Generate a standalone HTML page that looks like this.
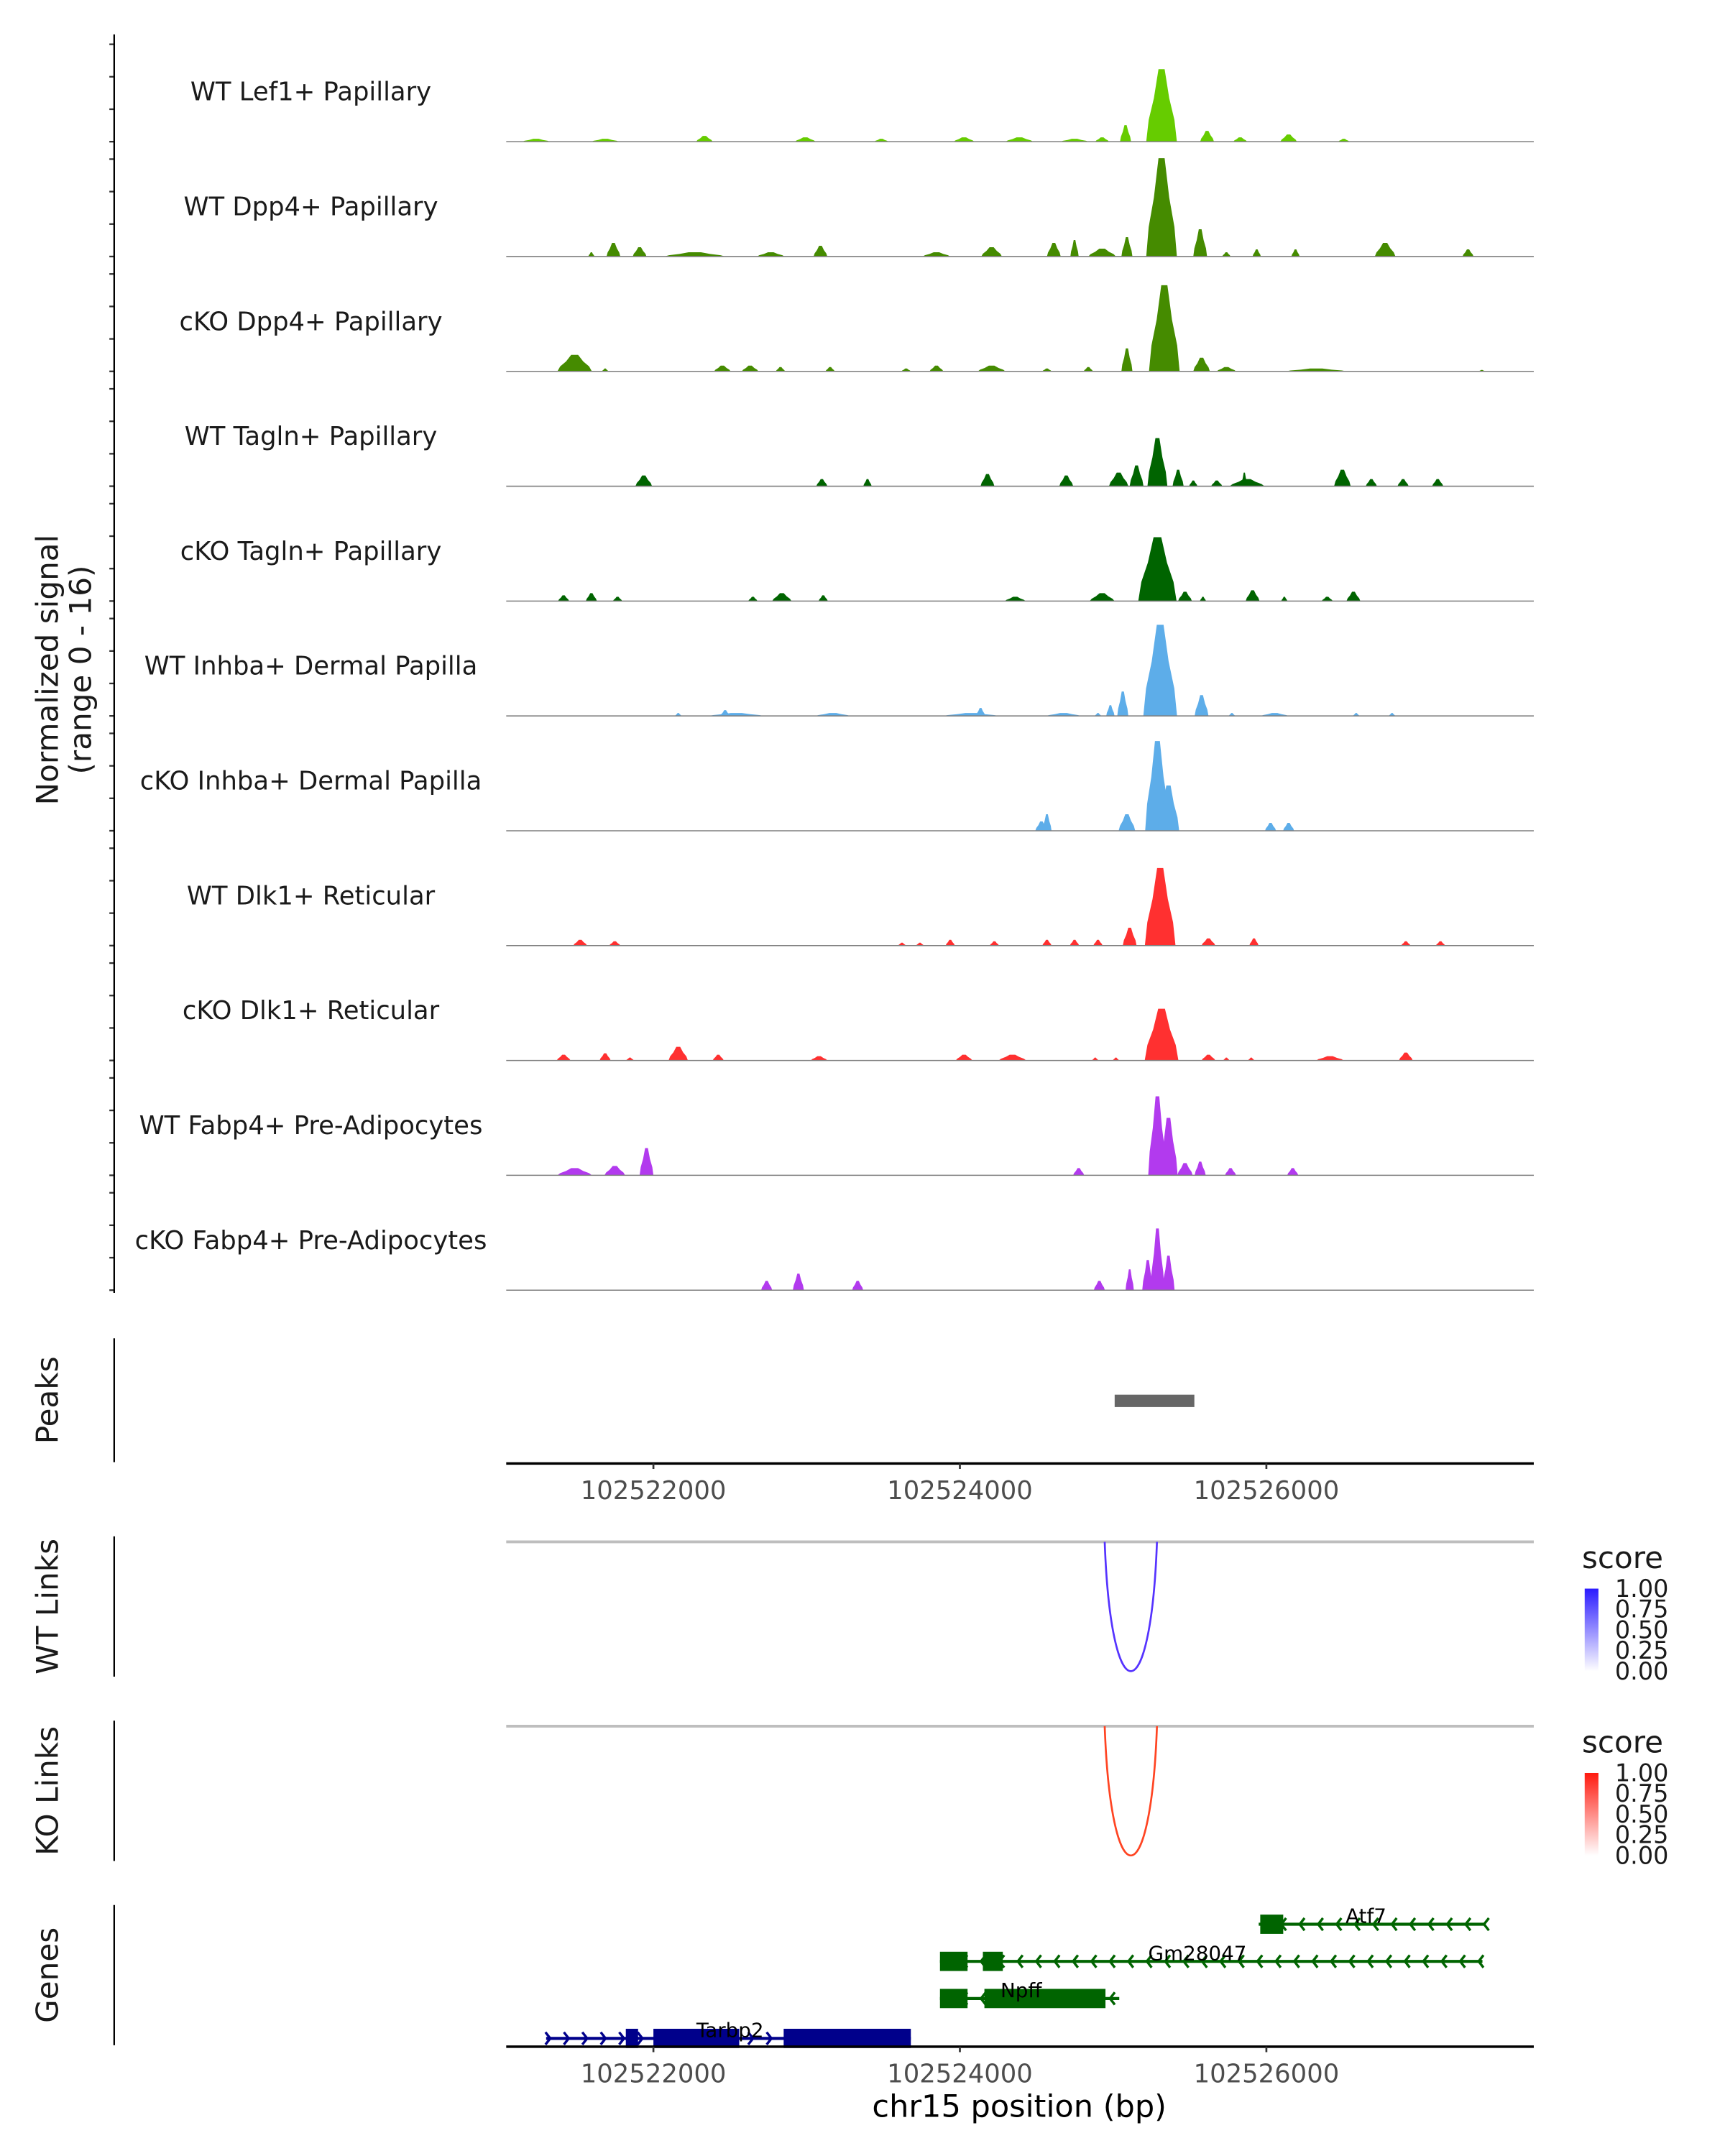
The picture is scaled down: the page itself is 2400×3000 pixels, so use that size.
<!DOCTYPE html>
<html><head><meta charset="utf-8"><style>
html,body{margin:0;padding:0;background:#fff;}
svg{display:block;}
text{font-family:"DejaVu Sans","Liberation Sans",sans-serif;}
</style></head><body>
<svg id="chart" width="2400" height="3000" viewBox="0 0 1254 1567.5" xmlns="http://www.w3.org/2000/svg">
<rect x="0" y="0" width="1254" height="1567.5" fill="#fff"/>
<g id="cov"></g>
<text transform="translate(42,487) rotate(-90)" text-anchor="middle" font-size="22" fill="#1a1a1a">Normalized signal</text>
<text transform="translate(66,487) rotate(-90)" text-anchor="middle" font-size="22" fill="#1a1a1a">(range 0 - 16)</text>
<line x1="83" y1="25" x2="83" y2="940" stroke="#000" stroke-width="1.2"/>
<line x1="83" y1="973" x2="83" y2="1063" stroke="#000" stroke-width="1.2"/>
<text transform="translate(42,1018) rotate(-90)" text-anchor="middle" font-size="22" fill="#1a1a1a">Peaks</text>
<g id="peaks"></g>
<line x1="368" y1="1064" x2="1115" y2="1064" stroke="#000" stroke-width="1.8"/>
<g id="axis1"></g>
<line x1="83" y1="1117" x2="83" y2="1219" stroke="#000" stroke-width="1.2"/>
<text transform="translate(42,1168) rotate(-90)" text-anchor="middle" font-size="22" fill="#1a1a1a">WT Links</text>
<line x1="368" y1="1121" x2="1115" y2="1121" stroke="#bebebe" stroke-width="2"/>
<g id="wtlinks"></g>
<line x1="83" y1="1251" x2="83" y2="1353" stroke="#000" stroke-width="1.2"/>
<text transform="translate(42,1302) rotate(-90)" text-anchor="middle" font-size="22" fill="#1a1a1a">KO Links</text>
<line x1="368" y1="1255" x2="1115" y2="1255" stroke="#bebebe" stroke-width="2"/>
<g id="kolinks"></g>
<defs>
<linearGradient id="gBlue" x1="0" y1="1" x2="0" y2="0"><stop offset="0" stop-color="#ffffff"/><stop offset="1" stop-color="#2a1aff"/></linearGradient>
<linearGradient id="gRed" x1="0" y1="1" x2="0" y2="0"><stop offset="0" stop-color="#ffffff"/><stop offset="1" stop-color="#ff1a0f"/></linearGradient>
</defs>
<g>
<text x="1150" y="1140" font-size="22" fill="#1a1a1a">score</text>
<rect x="1152" y="1155" width="10" height="60" fill="url(#gBlue)"/>
<g font-size="17.5" fill="#1a1a1a"><text x="1174" y="1161">1.00</text><text x="1174" y="1176">0.75</text><text x="1174" y="1191">0.50</text><text x="1174" y="1206">0.25</text><text x="1174" y="1221">0.00</text></g>
</g>
<g>
<text x="1150" y="1274" font-size="22" fill="#1a1a1a">score</text>
<rect x="1152" y="1289" width="10" height="60" fill="url(#gRed)"/>
<g font-size="17.5" fill="#1a1a1a"><text x="1174" y="1295">1.00</text><text x="1174" y="1310">0.75</text><text x="1174" y="1325">0.50</text><text x="1174" y="1340">0.25</text><text x="1174" y="1355">0.00</text></g>
</g>
<line x1="83" y1="1385" x2="83" y2="1487" stroke="#000" stroke-width="1.2"/>
<text transform="translate(42,1436) rotate(-90)" text-anchor="middle" font-size="22" fill="#1a1a1a">Genes</text>
<g id="genes"></g>
<line x1="368" y1="1488" x2="1115" y2="1488" stroke="#000" stroke-width="1.8"/>
<g id="axis2"></g>
<text x="741" y="1539" text-anchor="middle" font-size="22.5" fill="#000">chr15 position (bp)</text>
</svg>
<script>
const NS="http://www.w3.org/2000/svg";
const trackNames=["WT Lef1+ Papillary","WT Dpp4+ Papillary","cKO Dpp4+ Papillary","WT Tagln+ Papillary","cKO Tagln+ Papillary","WT Inhba+ Dermal Papilla","cKO Inhba+ Dermal Papilla","WT Dlk1+ Reticular","cKO Dlk1+ Reticular","WT Fabp4+ Pre-Adipocytes","cKO Fabp4+ Pre-Adipocytes"];
const trackColors=["#66cc00","#458b00","#458b00","#006400","#006400","#5dade9","#5dade9","#ff3030","#ff3030","#b23aee","#b23aee"];
const xTicks=[102522000,102524000,102526000];
const tickLabels=["102522000","102524000","102526000"];

const lef1WtPos=[102525316,102525081,102525613,102522333,102522991,102524027,102524388,102521234,102521685,102523487,102524748,102524928,102525829,102526145,102526505];
const lef1WtVal=[10.1,2.3,1.5,0.8,0.6,0.6,0.6,0.4,0.4,0.4,0.4,0.6,0.6,1.0,0.4];
const lef1WtWid=[200,72,90,108,135,135,180,180,180,90,180,90,90,108,72];

const dpp4WtPos=[102525316,102525568,102521739,102521910,102521595,102522270,102523090,102522766,102523847,102524207,102524613,102524748,102524928,102525090,102525739,102525937,102526190,102526775,102527316];
const dpp4WtVal=[13.7,3.8,1.9,1.3,0.6,0.6,1.5,0.6,0.6,1.3,1.9,2.3,1.1,2.7,0.6,1.0,1.0,1.9,1.0];
const dpp4WtWid=[200,90,90,90,40,400,90,180,180,135,90,54,180,72,54,54,54,135,72];

const dpp4KoPos=[102525334,102525090,102525577,102521486,102521685,102522450,102522631,102522829,102523153,102523649,102523847,102524207,102524568,102524838,102525739,102526325,102527406];
const dpp4KoVal=[12.0,3.2,1.9,2.3,0.4,0.8,0.8,0.6,0.6,0.4,0.8,0.8,0.4,0.6,0.6,0.4,0.2];
const dpp4KoWid=[200,72,108,225,40,108,108,60,60,60,90,180,60,60,126,400,40];

const taglnWtPos=[102525289,102525153,102525424,102521937,102523099,102523397,102524180,102524694,102525036,102525523,102525676,102525874,102525856,102526496,102526685,102526892,102527118];
const taglnWtVal=[6.7,2.9,2.3,1.5,1.0,1.0,1.7,1.5,1.9,0.8,0.8,1.0,1.9,2.3,1.0,1.0,1.0];
const taglnWtWid=[130,90,72,108,72,54,90,90,126,54,72,225,40,108,72,72,72];

const taglnKoPos=[102525289,102521414,102521595,102521766,102522649,102522838,102523108,102524361,102524928,102525469,102525586,102525910,102526117,102526397,102526568];
const taglnKoVal=[8.9,0.8,1.1,0.6,0.6,1.1,0.8,0.6,1.1,1.3,0.6,1.5,0.6,0.6,1.3];
const taglnKoWid=[250,72,72,60,60,126,60,135,162,90,40,90,40,72,90];

const inhbaWtPos=[102525307,102525063,102525577,102522162,102522541,102522468,102523171,102524072,102524135,102524676,102524901,102524982,102525775,102526054,102526586,102526820];
const inhbaWtVal=[12.7,3.4,2.9,0.4,0.4,0.8,0.4,0.4,1.1,0.4,0.4,1.5,0.4,0.4,0.4,0.4];
const inhbaWtWid=[220,72,90,40,360,60,225,360,60,225,40,54,40,180,40,40];

const inhbaKoPos=[102525289,102525361,102524568,102524532,102525090,102526027,102526145];
const inhbaKoVal=[12.5,6.3,2.3,1.3,2.3,1.1,1.1];
const inhbaKoWid=[160,140,60,80,108,72,72];

const dlk1WtPos=[102525307,102525108,102521522,102521748,102523622,102523739,102523937,102524225,102524568,102524748,102524901,102525622,102525919,102526910,102527136];
const dlk1WtVal=[10.8,2.5,0.8,0.6,0.4,0.4,0.8,0.6,0.8,0.8,0.8,1.0,1.0,0.6,0.6];
const dlk1WtWid=[200,90,90,72,50,50,60,60,60,60,60,90,60,60,60];

const dlk1KoPos=[102525316,102521414,102521685,102521847,102522162,102522423,102523081,102524027,102524343,102524883,102525018,102525622,102525739,102525901,102526415,102526910];
const dlk1KoVal=[7.2,0.8,1.0,0.4,1.9,0.8,0.6,0.8,0.8,0.4,0.4,0.8,0.4,0.4,0.6,1.1];
const dlk1KoWid=[220,90,72,50,126,72,108,108,180,40,40,90,40,40,180,90];

const fabp4WtPos=[102525289,102525361,102525469,102521486,102521748,102521955,102524775,102525568,102525766,102526172];
const fabp4WtVal=[11.0,8.0,1.7,1.0,1.3,3.8,1.0,1.9,1.0,1.0];
const fabp4WtWid=[120,120,100,225,135,90,72,72,72,72];

const fabp4KoPos=[102525289,102525361,102525226,102525108,102522739,102522946,102523333,102524910];
const fabp4KoVal=[8.6,4.8,4.2,2.9,1.3,2.3,1.3,1.3];
const fabp4KoWid=[90,80,72,54,72,72,72,72];

const peakStarts=[102525010];
const peakEnds=[102525530];

const wtLinkStart=[102524945];
const wtLinkEnd=[102525286];
const koLinkStart=[102524945];
const koLinkEnd=[102525286];

const trackPos=[lef1WtPos,dpp4WtPos,dpp4KoPos,taglnWtPos,taglnKoPos,inhbaWtPos,inhbaKoPos,dlk1WtPos,dlk1KoPos,fabp4WtPos,fabp4KoPos];
const trackVal=[lef1WtVal,dpp4WtVal,dpp4KoVal,taglnWtVal,taglnKoVal,inhbaWtVal,inhbaKoVal,dlk1WtVal,dlk1KoVal,fabp4WtVal,fabp4KoVal];
const trackWid=[lef1WtWid,dpp4WtWid,dpp4KoWid,taglnWtWid,taglnKoWid,inhbaWtWid,inhbaKoWid,dlk1WtWid,dlk1KoWid,fabp4WtWid,fabp4KoWid];

const X0=368,X1=1115;
function xs(bp){return 475+(bp-102522000)*(222.8/2000);}
const trackStep=83.5;
function baseY(i){return 103+i*trackStep;}
function ys(v){return v*(83.5/16);}
function mk(tag,attrs,parent){const e=document.createElementNS(NS,tag);for(const k in attrs)e.setAttribute(k,attrs[k]);parent.appendChild(e);return e;}

const cov=document.getElementById('cov');
for(let i=0;i<trackNames.length;i++){
  const b=baseY(i);
  const g=mk('g',{},cov);
  
  
  const lab=mk('text',{x:226,y:b-30,'text-anchor':'middle','font-size':'18.5',fill:'#1a1a1a'},g);
  lab.textContent=trackNames[i];
  
  
  for(let k=0;k<4;k++){
    const t=mk('line',{x1:79.5,x2:83,y1:b-k*23.6,y2:b-k*23.6,stroke:'#333','stroke-width':1.2},g);
    
    
  }
  const P=trackPos[i],V=trackVal[i],W=trackWid[i];
  for(let j=0;j<P.length;j++){
    const l=xs(P[j]-W[j]/2),r=xs(P[j]+W[j]/2),c=xs(P[j]);
    const tw=(r-l)*0.1;
    const h=ys(V[j]);
    const p=mk('polygon',{points:`${l},${b} ${l+(r-l)*0.08},${b-h*0.3} ${l+(r-l)*0.25},${b-h*0.6} ${c-tw},${b-h} ${c+tw},${b-h} ${r-(r-l)*0.25},${b-h*0.6} ${r-(r-l)*0.08},${b-h*0.3} ${r},${b}`,fill:trackColors[i]},g);
    
    
  }
  const bl=mk('line',{x1:X0,x2:X1,y1:b,y2:b,stroke:'#7f7f7f','stroke-width':0.8},g);
  
  
}

const pk=document.getElementById('peaks');
for(let j=0;j<peakStarts.length;j++){
  const r=mk('rect',{x:xs(peakStarts[j]),y:1014,width:xs(peakEnds[j])-xs(peakStarts[j]),height:9,fill:'#666'},pk);
  
  
}

function axis(id,y){
  const g=document.getElementById(id);
  for(let j=0;j<xTicks.length;j++){
    const x=xs(xTicks[j]);
    const t=mk('line',{x1:x,x2:x,y1:y,y2:y+4,stroke:'#333','stroke-width':1.4},g);
    
    
    const tx=mk('text',{x:x,y:y+26,'text-anchor':'middle','font-size':'18.5',fill:'#4d4d4d'},g);
    tx.textContent=tickLabels[j];
    
    
  }
}
axis('axis1',1064);axis('axis2',1488);

function arc(id,s,e,top,bottom,color){
  const g=document.getElementById(id);
  const a=xs(s),b=xs(e);const cy=top+(bottom-top)/0.75;
  const p=mk('path',{d:`M${a},${top} C${a+(b-a)*0.12},${cy} ${b-(b-a)*0.12},${cy} ${b},${top}`,fill:'none',stroke:color,'stroke-width':1.4},g);
  
  
}
arc('wtlinks',wtLinkStart[0],wtLinkEnd[0],1121,1215,'#5533ff');
arc('kolinks',koLinkStart[0],koLinkEnd[0],1255,1349,'#ff4422');

const geneNames=["Atf7","Gm28047","Npff","Tarbp2"];
const geneStart=[102525950,102523870,102523870,102521300];
const geneEnd=[102527430,102527410,102525040,102523680];
const geneStrand=[-1,-1,-1,1];
const geneRow=[0,1,2,3];
const geneColor=["#006400","#006400","#006400","#00008b"];
const geneLabelPos=[102526650,102525550,102524400,102522500];
const exonStarts=[[102525960],[102523870,102524150],[102523870,102524160],[102521820,102522000,102522850]];
const exonEnds=[[102526110],[102524050,102524280],[102524050,102524950],[102521900,102522560,102523680]];
const rowY=[1399,1426,1453,1482];
const gg=document.getElementById('genes');
for(let i=0;i<geneNames.length;i++){
  const y=rowY[geneRow[i]],col=geneColor[i];
  const g=mk('g',{},gg);
  
  
  const a=xs(geneStart[i]),b=xs(geneEnd[i]);
  mk('line',{x1:a,x2:b,y1:y,y2:y,stroke:col,'stroke-width':2.2},g);
  for(let x=a+3;x<=b;x+=13.4){
    const d=geneStrand[i]*3.5;
    mk('polyline',{points:`${x-d},${y-4.5} ${x},${y} ${x-d},${y+4.5}`,fill:'none',stroke:col,'stroke-width':1.8},g);
  }
  for(let k=0;k<exonStarts[i].length;k++){
    const ea=xs(exonStarts[i][k]),eb=xs(exonEnds[i][k]);
    const r=mk('rect',{x:ea,y:y-7,width:eb-ea,height:14,fill:col},g);
    
    
  }
  const t=mk('text',{x:xs(geneLabelPos[i]),y:y-1,'text-anchor':'middle','font-size':'14.5',fill:'#000'},g);
  t.textContent=geneNames[i];
  
  
}
</script>
</body></html>
